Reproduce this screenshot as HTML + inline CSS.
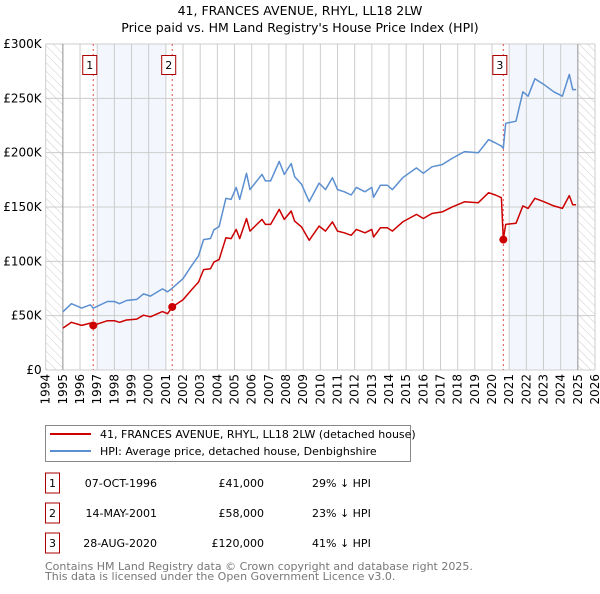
<!DOCTYPE html>
<html><head><meta charset="utf-8"><style>
body{margin:0;background:#fff;width:600px;height:590px;overflow:hidden;font-family:"DejaVu Sans","Liberation Sans",sans-serif;}
svg text{font-family:"DejaVu Sans","Liberation Sans",sans-serif;}
</style></head><body>
<svg id="chart" width="600" height="590" viewBox="0 0 600 590" xmlns="http://www.w3.org/2000/svg">
<defs><pattern id="hatch" width="6" height="6" patternUnits="userSpaceOnUse" patternTransform="rotate(-45)"><line x1="0" y1="0" x2="0" y2="6" stroke="#ccc" stroke-width="1"/></pattern></defs>
<text x="300" y="15" text-anchor="middle" font-size="12.5">41, FRANCES AVENUE, RHYL, LL18 2LW</text>
<text x="300" y="32" text-anchor="middle" font-size="12.5">Price paid vs. HM Land Registry's House Price Index (HPI)</text>
<g id="plot"></g>
<g>
<rect x="45.5" y="425.5" width="365" height="36" fill="#fff" stroke="#888"/>
<line x1="50" y1="434" x2="91" y2="434" stroke="#cc0000" stroke-width="2"/>
<text x="100" y="438" font-size="11">41, FRANCES AVENUE, RHYL, LL18 2LW (detached house)</text>
<line x1="50" y1="451" x2="91" y2="451" stroke="#5b8fd0" stroke-width="2"/>
<text x="100" y="455" font-size="11">HPI: Average price, detached house, Denbighshire</text>
</g>
<g id="table"></g>
<text x="45" y="570" font-size="11" fill="#777">Contains HM Land Registry data © Crown copyright and database right 2025.</text>
<text x="45" y="580" font-size="11" fill="#777">This data is licensed under the Open Government Licence v3.0.</text>
</svg>
<script>
const years=[1995.0,1995.5,1996.1,1996.6,1996.77,1997.6,1998.0,1998.3,1998.7,1999.3,1999.7,2000.1,2000.8,2001.1,2001.37,2002.0,2002.5,2002.9,2003.2,2003.6,2003.8,2004.1,2004.5,2004.8,2005.1,2005.3,2005.7,2005.9,2006.3,2006.6,2006.8,2007.1,2007.3,2007.6,2007.9,2008.3,2008.5,2008.9,2009.35,2009.93,2010.3,2010.7,2011.0,2011.4,2011.8,2012.1,2012.6,2013.0,2013.1,2013.5,2013.9,2014.2,2014.8,2015.6,2016.0,2016.5,2017.1,2017.7,2018.4,2019.2,2019.8,2020.2,2020.55,2020.66,2020.8,2021.4,2021.8,2022.1,2022.5,2023.0,2023.6,2024.1,2024.5,2024.7,2024.9];
const hpiValues=[53.6,61,57,60,56.9,63,63,61,64,65,70,68,74.6,72,75.3,84,96,105,120,121,129,132,158,157,168,157,181,166,174,180,174,174,181,192,180,190,178,171,155,172,166,177,166,164,161,168,164,168,159,170,170,166,177,186,181,187,189,195,201,200,212,209,206,204,227,229,256,252,268,263,256,252,272,258,258];
const priceValues=[38.6,43.9,41,43.2,41,45.4,45.4,43.9,46,46.8,50.4,49,53.7,51.8,58,64.7,73.9,80.9,92.4,93.2,99.3,101.6,121.7,120.9,129.4,120.9,139.4,127.8,134,138.6,134,134,139.4,147.8,138.6,146.3,137,131.7,119.4,132.4,127.8,136.3,127.8,126.3,124,129.4,126.3,129.4,122.4,130.9,130.9,127.8,136.3,143.2,139.4,144,145.5,150.2,154.8,154,163.2,161,158.6,120,134,135,151,148.7,158,155,151,148.7,160.5,152,152];
const yTicks=[0,50,100,150,200,250,300];
const yTickLabels=["£0","£50K","£100K","£150K","£200K","£250K","£300K"];
const saleYears=[1996.77,2001.37,2020.66];
const saleValues=[41,58,120];
const saleLabels=["1","2","3"];
const saleDates=["07-OCT-1996","14-MAY-2001","28-AUG-2020"];
const salePrices=["£41,000","£58,000","£120,000"];
const saleDiffs=["29% ↓ HPI","23% ↓ HPI","41% ↓ HPI"];

const NS="http://www.w3.org/2000/svg";
const X0=45.7,X1=595,Y0=370,Y1=44;
const xs=y=>X0+(y-1994)*(X1-X0)/32;
const ys=v=>Y0-(v/300)*(Y0-Y1);
const plot=document.getElementById('plot');
function mk(tag,attrs,parent){const e=document.createElementNS(NS,tag);for(const k in attrs)e.setAttribute(k,attrs[k]);(parent||plot).appendChild(e);return e;}

let e;
e=mk('rect',{x:xs(1994),y:Y1,width:xs(1995)-xs(1994),height:Y0-Y1,fill:'url(#hatch)'});


e=mk('rect',{x:xs(2025),y:Y1,width:xs(2026)-xs(2025),height:Y0-Y1,fill:'url(#hatch)'});


e=mk('rect',{x:xs(1997.0),y:Y1,width:xs(2001.0)-xs(1997.0),height:Y0-Y1,fill:'#eef3fc',opacity:0.7});


e=mk('rect',{x:xs(2021.0),y:Y1,width:xs(2025.0)-xs(2021.0),height:Y0-Y1,fill:'#eef3fc',opacity:0.7});



for(let yr=1994;yr<=2026;yr++){
  e=mk('line',{x1:xs(yr),x2:xs(yr),y1:Y1,y2:Y0,stroke:'#ccc','stroke-width':1});
  
  
  const tx=xs(yr)+4, ty=Y0+4;
  e=mk('text',{x:tx,y:ty,'text-anchor':'end','font-size':12,transform:`rotate(-90 ${tx} ${ty})`});
  e.textContent=yr;
  
  
}
yTicks.forEach((t,i)=>{
  e=mk('line',{x1:X0,x2:X1,y1:ys(t),y2:ys(t),stroke:'#ccc','stroke-width':1});
  
  
  e=mk('text',{x:X0-4,y:ys(t)+4,'text-anchor':'end','font-size':12});
  e.textContent=yTickLabels[i];
  
  
});
e=mk('line',{x1:xs(1995),x2:xs(1995),y1:Y1,y2:Y0,stroke:'#999','stroke-width':1});


e=mk('line',{x1:xs(2025),x2:xs(2025),y1:Y1,y2:Y0,stroke:'#999','stroke-width':1});



saleYears.forEach((s,i)=>{
  e=mk('line',{x1:xs(s),x2:xs(s),y1:Y1,y2:Y0,stroke:'#e05050','stroke-width':1,'stroke-dasharray':'2,3'});
  
  
});

const pts=a=>years.map((y,i)=>xs(y).toFixed(1)+','+ys(a[i]).toFixed(1)).join(' ');
e=mk('polyline',{points:pts(hpiValues),fill:'none',stroke:'#5b8fd0','stroke-width':1.5,'stroke-linejoin':'round'});


e=mk('polyline',{points:pts(priceValues),fill:'none',stroke:'#cc0000','stroke-width':1.5,'stroke-linejoin':'round'});



saleYears.forEach((s,i)=>{
  e=mk('circle',{cx:xs(s),cy:ys(saleValues[i]),r:4,fill:'#cc0000'});
  
  
  e=mk('rect',{x:xs(s)-10.5,y:55.5,width:14,height:19,fill:'#fff',stroke:'#aa0000'});
  
  
  e=mk('text',{x:xs(s)-3.5,y:69,'text-anchor':'middle','font-size':11});
  e.textContent=saleLabels[i];
  
  
});

const tbl=document.getElementById('table');
saleLabels.forEach((l,i)=>{
  const cy=483+i*30;
  e=mk('rect',{x:45.5,y:cy-10,width:14,height:20,fill:'#fff',stroke:'#aa0000'},tbl);
  
  
  e=mk('text',{x:52.5,y:cy+4,'text-anchor':'middle','font-size':11},tbl);e.textContent=l;
  
  
  e=mk('text',{x:157,y:cy+4,'text-anchor':'end','font-size':11},tbl);e.textContent=saleDates[i];
  
  
  e=mk('text',{x:264,y:cy+4,'text-anchor':'end','font-size':11},tbl);e.textContent=salePrices[i];
  
  
  e=mk('text',{x:312,y:cy+4,'font-size':11},tbl);e.textContent=saleDiffs[i];
  
  
});
</script>
</body></html>
